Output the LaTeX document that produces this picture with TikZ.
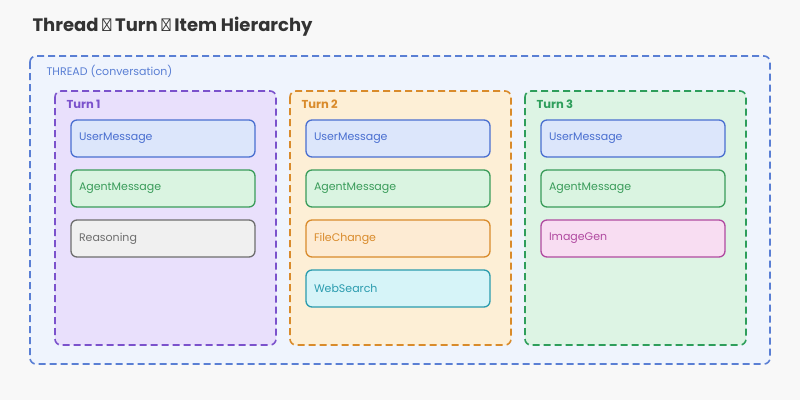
\documentclass[tikz,border=0pt]{standalone}
\usepackage{fontspec}
\setmainfont{Poppins}
\usetikzlibrary{positioning}
\definecolor{bgc}{HTML}{F8F8F8}
\definecolor{thrF}{HTML}{EFF4FD}\definecolor{thrD}{HTML}{5A7FD4}
\definecolor{puF}{HTML}{E9E0FC}\definecolor{puD}{HTML}{7B52CC}
\definecolor{orF}{HTML}{FDEFD6}\definecolor{orD}{HTML}{D98B2B}
\definecolor{grF}{HTML}{DDF4E4}\definecolor{grD}{HTML}{2E9E5B}
\definecolor{umF}{HTML}{DCE6FB}\definecolor{umD}{HTML}{4A6FD0}
\definecolor{amF}{HTML}{DAF4E1}\definecolor{amD}{HTML}{3A9C5A}
\definecolor{rsF}{HTML}{F0F0F0}\definecolor{rsD}{HTML}{6E6E6E}
\definecolor{fcF}{HTML}{FDEBD3}\definecolor{fcD}{HTML}{D98B2B}
\definecolor{wsF}{HTML}{D6F4F8}\definecolor{wsD}{HTML}{2A9BAE}
\definecolor{igF}{HTML}{F8DDF2}\definecolor{igD}{HTML}{B04AA0}
\begin{document}
\begin{tikzpicture}
    [
    x=1pt,y=-1pt,
    turn/.style={draw=#1D,fill=#1F,line width=1.6pt,rounded corners=6pt,dash pattern=on 7pt off 4pt},
    turnlabel/.style={text=#1D,font=\fontsize{11.5}{13}\selectfont\bfseries,anchor=west},
    item/.style={draw=#1D,fill=#1F,line width=1.3pt,rounded corners=6pt,text=#1D,
      minimum width=184pt,minimum height=37pt,text width=168pt,align=left,
      font=\fontsize{11}{12}\selectfont,inner sep=0pt}
    ]
    \fill[bgc] (0,0) rectangle (800,400);
    \useasboundingbox (0,0) rectangle (800,400);
    \node (title) at (29,27) [anchor=west,text=black!80,font=\fontsize{18}{20}\selectfont\bfseries] {Thread → Turn → Item Hierarchy};
    \draw[turn=thr] (30,56) rectangle (770,364);
    \node (thread) at (43,71) [anchor=west,text=thrD,font=\fontsize{11}{12}\selectfont] {THREAD (conversation)};
    % turns
    \draw[turn=pu] (55,91) rectangle (276,345);
    \draw[turn=or] (290,91) rectangle (511,345);
    \draw[turn=gr] (525,91) rectangle (746,345);
    \node (t1) at (63,104) [turnlabel=pu] {Turn 1};
    \node (t2) at (298,104) [turnlabel=or] {Turn 2};
    \node (t3) at (533,104) [turnlabel=gr] {Turn 3};
    % items
    \node (u1) at (163,138.5) [item=um] {UserMessage};
    \node (a1) at (163,188.5) [item=am] {AgentMessage};
    \node (r1) at (163,238.5) [item=rs] {Reasoning};
    \node (u2) at (398,138.5) [item=um] {UserMessage};
    \node (a2) at (398,188.5) [item=am] {AgentMessage};
    \node (f2) at (398,238.5) [item=fc] {FileChange};
    \node (w2) at (398,288.5) [item=ws] {WebSearch};
    \node (u3) at (633,138.5) [item=um] {UserMessage};
    \node (a3) at (633,188.5) [item=am] {AgentMessage};
    \node (i3) at (633,238.5) [item=ig] {ImageGen};
  \end{tikzpicture}
\end{document}
